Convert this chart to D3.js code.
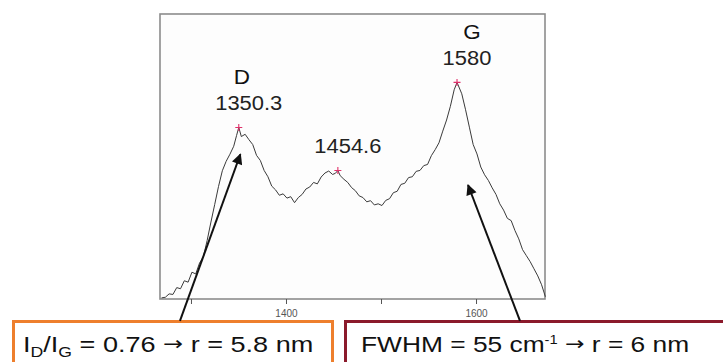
<!DOCTYPE html>
<html>
<head>
<meta charset="utf-8">
<script src="https://cdn.jsdelivr.net/npm/d3@7"></script>
<style>
  html, body { margin: 0; padding: 0; background: #ffffff; }
  svg { display: block; font-family: "Liberation Sans", Arial, sans-serif; }
</style>
</head>
<body>
<svg id="chart" width="723" height="362"></svg>
<script>
// Raman spectrum (wavenumber in cm^-1, intensity in arbitrary units)
const wavenumber = [
  1269, 1273, 1277, 1281, 1285, 1289, 1293, 1297, 1301, 1305,
  1309, 1313, 1317, 1321, 1325, 1329, 1333, 1337, 1341, 1345,
  1348, 1350.3, 1353, 1357, 1361, 1365, 1369, 1373, 1377, 1381,
  1385, 1389, 1393, 1397, 1401, 1405, 1409, 1413, 1417, 1421,
  1425, 1429, 1433, 1437, 1441, 1445, 1449, 1452, 1454.6, 1457,
  1461, 1465, 1469, 1473, 1477, 1481, 1485, 1489, 1493, 1497,
  1501, 1505, 1509, 1513, 1517, 1521, 1525, 1529, 1533, 1537,
  1541, 1545, 1549, 1553, 1557, 1561, 1565, 1569, 1573, 1577,
  1580, 1585, 1589, 1593, 1597, 1601, 1605, 1609, 1613, 1617,
  1621, 1625, 1629, 1633, 1637, 1641, 1645, 1649, 1653, 1657,
  1661, 1665, 1669, 1673
];
const intensity = [
  0.4, 0.6, 1.8, 1.6, 4.0, 3.6, 6.4, 5.9, 9.4, 8.8,
  12.6, 14.8, 20.5, 27.0, 33.2, 39.5, 45.0, 48.3, 50.8, 53.6,
  57.4, 60.2, 57.0, 57.8, 55.9, 54.2, 50.4, 48.6, 45.1, 42.9,
  39.6, 38.3, 36.4, 36.9, 35.4, 35.9, 33.8, 35.6, 36.7, 38.6,
  39.3, 40.9, 40.4, 42.8, 44.2, 44.9, 43.7, 44.1, 45.1, 43.3,
  42.0, 40.9, 39.1, 38.0, 36.2, 35.6, 34.1, 34.5, 33.0, 33.4,
  32.8, 34.6, 35.2, 37.3, 37.8, 40.2, 40.6, 42.6, 42.9, 44.8,
  45.1, 46.8, 47.2, 50.3, 52.4, 54.8, 58.9, 62.8, 67.6, 73.4,
  76.0, 72.0, 66.4, 60.3, 54.2, 50.9, 46.3, 43.6, 41.6, 39.0,
  36.7, 33.4, 31.2, 28.3, 27.5, 24.0, 21.1, 17.3, 15.2, 13.1,
  10.6, 8.1, 5.0, 0.8
];

// Fitted band positions
const peakPos = [1350.3, 1454.6, 1580];
const peakInt = [60.2, 45.1, 76.0];
const peakLabels = ["1350.3", "1454.6", "1580"];
const bandNames = ["D", "", "G"];

// Axis ticks
const xTicks = [1300, 1400, 1500, 1600];
const xTickLabels = ["", "1400", "", "1600"];

// Annotation arrows (data units): from the result boxes to the bands
const arrowFromX = [1288.4, 1646.3];
const arrowFromY = [-7.7, -7.7];
const arrowToX = [1352, 1591.6];
const arrowToY = [50.8, 40.0];

const svg = d3.select("#chart");
const plot = { left: 160, top: 14, right: 545, bottom: 299 };

const x = d3.scaleLinear().domain([1267.4, 1672.6]).range([plot.left, plot.right]);
const y = d3.scaleLinear().domain([0, 100]).range([plot.bottom, plot.top]);

svg.append("defs").append("marker")
  .attr("id", "head")
  .attr("viewBox", "0 0 10 10")
  .attr("refX", 9).attr("refY", 5)
  .attr("markerWidth", 6).attr("markerHeight", 5.4)
  .attr("markerUnits", "strokeWidth")
  .attr("orient", "auto")
  .append("path")
  .attr("d", "M0,0 L10,5 L0,10 Z")
  .attr("fill", "#111");

// Plot frame
svg.append("rect")
  .attr("x", plot.left).attr("y", plot.top)
  .attr("width", plot.right - plot.left).attr("height", plot.bottom - plot.top)
  .attr("fill", "#fdfdfd")
  .attr("stroke", "#8c8c8c").attr("stroke-width", 1.6);

// Bottom axis
const axis = d3.axisBottom(x)
  .tickValues(xTicks)
  .tickSize(5)
  .tickFormat((d, i) => xTickLabels[i]);
const gAxis = svg.append("g")
  .attr("transform", `translate(0,${plot.bottom})`)
  .call(axis);
gAxis.select(".domain").remove();
gAxis.selectAll(".tick line").attr("stroke", "#555").attr("stroke-width", 1);
gAxis.selectAll(".tick text")
  .attr("fill", "#555").attr("font-size", 10).attr("dy", "0.95em")
  .attr("font-family", "Liberation Sans, Arial, sans-serif");

// Spectrum
const series = wavenumber.map((w, i) => [w, intensity[i]]);
svg.append("path")
  .datum(series)
  .attr("fill", "none")
  .attr("stroke", "#3a3a3a")
  .attr("stroke-width", 1)
  .attr("stroke-linejoin", "round")
  .attr("d", d3.line().x(d => x(d[0])).y(d => y(d[1])));

// Peak markers
const peaks = peakPos.map((p, i) => ({ p, v: peakInt[i], label: peakLabels[i], name: bandNames[i] }));
const pm = svg.append("g").selectAll("g").data(peaks).join("g")
  .attr("transform", d => `translate(${x(d.p)},${y(d.v)})`);
pm.append("path")
  .attr("d", "M-3.5,0 H3.5 M0,-3.5 V3.5")
  .attr("stroke", "#e0306a").attr("stroke-width", 1.1);

// Peak labels
pm.append("text")
  .attr("transform", "translate(10,-17) scale(1.07,1)")
  .attr("text-anchor", "middle")
  .attr("font-size", 20.5)
  .attr("fill", "#222")
  .text(d => d.label);
pm.filter(d => d.name).append("text")
  .attr("transform", d => `translate(${d.name === "G" ? 15 : 3},-43) scale(1.07,1)`)
  .attr("text-anchor", "middle")
  .attr("font-size", 21)
  .attr("fill", "#111")
  .text(d => d.name);

// Result boxes
svg.append("rect")
  .attr("x", 13.5).attr("y", 321.5).attr("width", 319).attr("height", 50)
  .attr("fill", "#ffffff").attr("stroke", "#ee7f2d").attr("stroke-width", 3);
svg.append("rect")
  .attr("x", 345.5).attr("y", 321.5).attr("width", 390).attr("height", 50)
  .attr("fill", "#ffffff").attr("stroke", "#8b1a2b").attr("stroke-width", 3);

// Arrows
svg.append("g").selectAll("line").data(arrowFromX).join("line")
  .attr("x1", (d, i) => x(arrowFromX[i]))
  .attr("y1", (d, i) => y(arrowFromY[i]))
  .attr("x2", (d, i) => x(arrowToX[i]))
  .attr("y2", (d, i) => y(arrowToY[i]))
  .attr("stroke", "#111").attr("stroke-width", 2)
  .attr("marker-end", "url(#head)");

// Box texts (wide set)
const t1 = svg.append("text")
  .attr("transform", "translate(23,352) scale(1.26,1)")
  .attr("font-size", 21.5).attr("fill", "#111");
t1.append("tspan").text("I");
t1.append("tspan").attr("font-size", 14).attr("dy", 5).text("D");
t1.append("tspan").attr("dy", -5).text("/I");
t1.append("tspan").attr("font-size", 14).attr("dy", 5).text("G");
t1.append("tspan").attr("dy", -5).text(" = 0.76 ");
t1.append("tspan").attr("font-size", 19).attr("dy", -2).attr("font-family", "DejaVu Sans").text("\u2192");
t1.append("tspan").attr("dy", 2).text("  r = 5.8 nm");

const t2 = svg.append("text")
  .attr("transform", "translate(361,352) scale(1.225,1)")
  .attr("font-size", 21.5).attr("fill", "#111");
t2.append("tspan").text("FWHM = 55 cm");
t2.append("tspan").attr("font-size", 12).attr("dy", -8).text("-1");
t2.append("tspan").attr("font-size", 19).attr("dy", 6).attr("font-family", "DejaVu Sans").text(" \u2192");
t2.append("tspan").attr("dy", 2).text("  r = 6 nm");
</script>
</body>
</html>
